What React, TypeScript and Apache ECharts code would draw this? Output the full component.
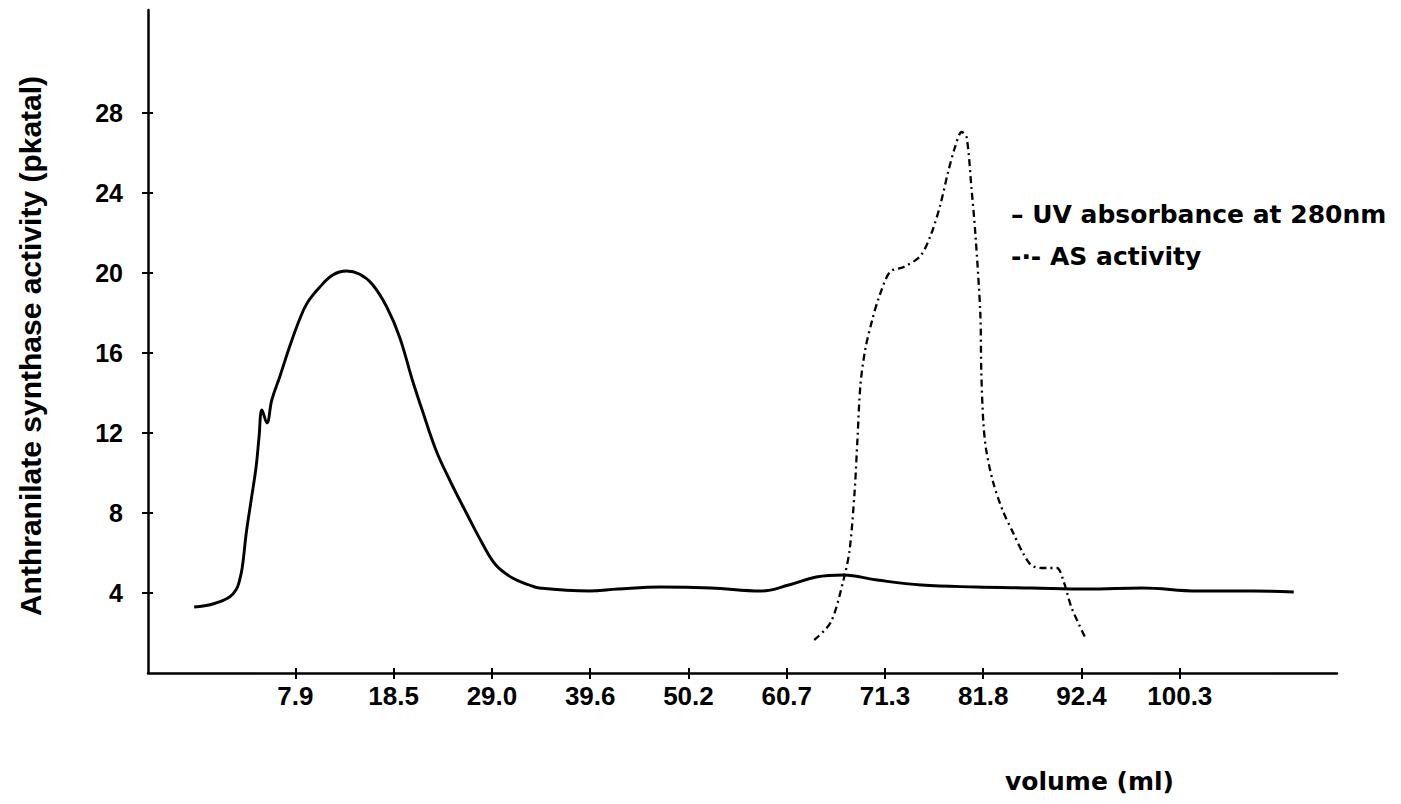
import React, { useEffect, useRef } from "react";
import * as echarts from "echarts";

// X tick labels (volume, ml) — evenly spaced on the original axis
const xTickLabels = ["7.9", "18.5", "29.0", "39.6", "50.2", "60.7", "71.3", "81.8", "92.4", "100.3"];
const xTickPositions = [0, 1, 2, 3, 4, 5, 6, 7, 8, 9];
const yTickValues = [4, 8, 12, 16, 20, 24, 28];

// UV absorbance at 280nm (x in tick-position units, y in plotted units)
const uvPos = [
  -1.03, -0.84, -0.67, -0.6, -0.57, -0.54, -0.5, -0.45, -0.4, -0.37, -0.34, -0.29, -0.24, -0.16, -0.06,
  0.04, 0.12, 0.24, 0.38, 0.52, 0.65, 0.78, 0.93, 1.06, 1.19, 1.29, 1.43, 1.57, 1.74, 1.9, 2.04, 2.21,
  2.38, 2.48, 2.99, 3.28, 3.72, 4.23, 4.74, 5.02, 5.3, 5.58, 5.92, 6.37, 6.93, 7.49, 8.06, 8.62, 9.18,
  9.74, 10.16,
];
const uvVal = [
  3.3, 3.45, 3.8, 4.2, 4.6, 5.3, 7.0, 8.65, 10.3, 11.8, 13.15, 12.5, 13.65, 14.8, 16.3,
  17.65, 18.5, 19.25, 19.9, 20.1, 19.95, 19.45, 18.3, 16.8, 14.65, 13.15, 11.15, 9.65, 8.0, 6.5, 5.4, 4.75,
  4.4, 4.25, 4.1, 4.2, 4.3, 4.25, 4.1, 4.4, 4.8, 4.9, 4.65, 4.4, 4.3, 4.25, 4.2, 4.25, 4.1,
  4.1, 4.05,
];

// AS activity
const asPos = [
  5.28, 5.45, 5.58, 5.64, 5.69, 5.72, 5.75, 5.8, 5.87, 5.94, 6.05, 6.19, 6.36, 6.47, 6.56, 6.64, 6.71,
  6.78, 6.83, 6.88, 6.92, 6.97, 6.98, 7.0, 7.03, 7.1, 7.2, 7.3, 7.41, 7.5, 7.64, 7.75, 7.82, 7.9, 8.05,
];
const asVal = [
  1.65, 2.55, 4.7, 6.15, 9.0, 11.7, 14.4, 16.2, 17.65, 18.8, 20.05, 20.3, 20.85, 21.95, 23.35, 25.0, 26.25,
  27.05, 26.8, 24.25, 21.95, 18.0, 15.1, 12.6, 11.15, 9.55, 8.1, 7.05, 5.95, 5.35, 5.25, 5.25, 4.55, 3.25, 1.65,
];

export default function App() {
  const ref = useRef<HTMLDivElement>(null);

  useEffect(() => {
    document.body.style.margin = "0";
    const chart = echarts.init(ref.current as HTMLDivElement, null, { renderer: "svg" });
    const uvData = uvPos.map((x, i) => [x, uvVal[i]]);
    const asData = asPos.map((x, i) => [x, asVal[i]]);
    const tickFont = { color: "#000", fontFamily: "Liberation Sans", fontWeight: "bold" as const, fontSize: 26 };
    const textFont = 'bold 25px "DejaVu Sans"';

    chart.setOption({
      animation: false,
      backgroundColor: "#fff",
      grid: { left: 148, right: 64, top: 10, bottom: 131 },
      xAxis: [
        {
          type: "value",
          min: -1.5,
          max: 10.6,
          position: "bottom",
          axisLine: { show: true, onZero: false, lineStyle: { color: "#000", width: 2.5 } },
          axisTick: { show: true, customValues: xTickPositions, length: 6, lineStyle: { color: "#000", width: 2 } },
          axisLabel: {
            ...tickFont,
            customValues: xTickPositions,
            margin: 10,
            formatter: (v: number) => xTickLabels[Math.round(v)] ?? "",
          },
          splitLine: { show: false },
        },
        {
          type: "value",
          min: -1.5,
          max: 10.6,
          position: "bottom",
          axisLine: { show: false, onZero: false },
          axisTick: { show: true, inside: true, customValues: xTickPositions, length: 5, lineStyle: { color: "#000", width: 2 } },
          axisLabel: { show: false },
          splitLine: { show: false },
        },
      ],
      yAxis: [
        {
          type: "value",
          min: 0,
          max: 33.15,
          position: "left",
          axisLine: { show: true, onZero: false, lineStyle: { color: "#000", width: 2.5 } },
          axisTick: { show: true, customValues: yTickValues, length: 6, lineStyle: { color: "#000", width: 2 } },
          axisLabel: { ...tickFont, fontSize: 25, customValues: yTickValues, margin: 25 },
          splitLine: { show: false },
        },
        {
          type: "value",
          min: 0,
          max: 33.15,
          position: "left",
          axisLine: { show: false, onZero: false },
          axisTick: { show: true, inside: true, customValues: yTickValues, length: 5, lineStyle: { color: "#000", width: 2 } },
          axisLabel: { show: false },
          splitLine: { show: false },
        },
      ],
      series: [
        {
          type: "line",
          name: "UV absorbance at 280nm",
          data: uvData,
          symbol: "none",
          smooth: 0.4,
          lineStyle: { color: "#000", width: 2.9 },
        },
        {
          type: "line",
          name: "AS activity",
          data: asData,
          symbol: "none",
          smooth: 0.3,
          lineStyle: { color: "#000", width: 2.3, type: [7, 4, 2, 4] },
        },
      ],
      graphic: [
        {
          type: "text",
          x: 30,
          y: 346,
          rotation: Math.PI / 2,
          style: {
            text: "Anthranilate synthase activity (pkatal)",
            font: 'bold 30px "Liberation Sans"',
            fill: "#000",
            align: "center",
            verticalAlign: "middle",
          },
        },
        {
          type: "text",
          x: 1011,
          y: 214,
          style: { text: "– UV absorbance at 280nm", font: textFont, fill: "#000", verticalAlign: "middle" },
        },
        {
          type: "text",
          x: 1011,
          y: 256,
          style: { text: "-·- AS activity", font: textFont, fill: "#000", verticalAlign: "middle" },
        },
        {
          type: "text",
          x: 1005,
          y: 781,
          style: { text: "volume (ml)", font: textFont, fill: "#000", verticalAlign: "middle" },
        },
      ],
    });

    return () => chart.dispose();
  }, []);

  return <div ref={ref} style={{ width: 1401, height: 804, background: "#fff" }} />;
}
